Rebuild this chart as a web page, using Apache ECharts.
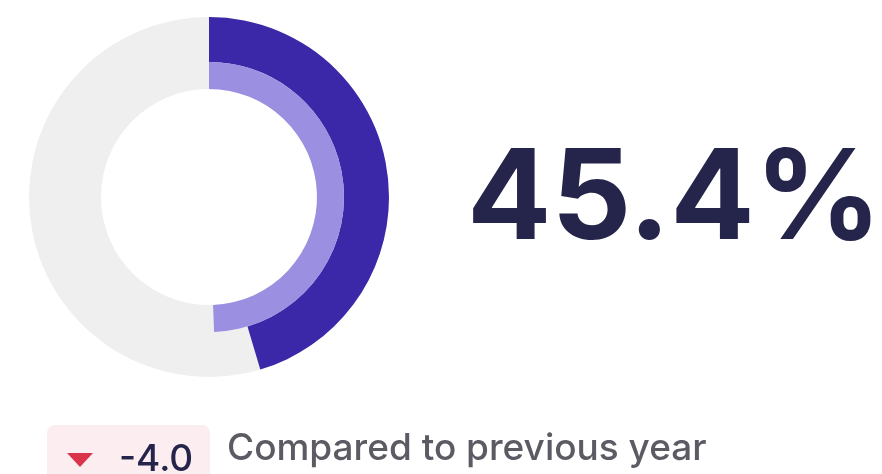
<!DOCTYPE html>
<html>
<head>
<meta charset="utf-8">
<script src="https://cdn.jsdelivr.net/npm/echarts@6/dist/echarts.min.js"></script>
<style>
	html, body { margin: 0; padding: 0; background: #ffffff; }
	#chart { width: 882px; height: 474px; }
</style>
</head>
<body>
<div id="chart"></div>
<script>
// values
var currentShare = [45.4, 54.6];   // this year, rest of the ring
var previousShare = [49.4, 50.6];  // previous year, rest of the ring
var bigLabel = '45.4%';
var changeLabel = '-4.0';
var compareLabel = 'Compared to previous year';

var colors = {
	current: '#3a28a8',
	previous: '#9a8fe0',
	track: '#efefef',
	bigText: '#25244a',
	changeText: '#25244a',
	compareText: '#5b5b63',
	badge: '#fceef0',
	arrow: '#d9344a'
};

var center = [209, 197];

var chart = echarts.init(document.getElementById('chart'));

function ringData(values, mainColor) {
	return [
		{ value: values[0], itemStyle: { color: mainColor } },
		{ value: values[1], itemStyle: { color: 'transparent' } }
	];
}

function ring(radius, data) {
	return {
		type: 'pie',
		center: center,
		radius: radius,
		startAngle: 90,
		clockwise: true,
		silent: true,
		label: { show: false },
		labelLine: { show: false },
		data: data
	};
}

var option = {
	animation: false,
	series: [
		// grey track under both arcs
		ring([108, 180], [{ value: 1, itemStyle: { color: colors.track } }]),
		ring([135, 180], ringData(currentShare, colors.current)),
		ring([108, 135], ringData(previousShare, colors.previous))
	],
	graphic: [
		{
			type: 'text',
			left: 467,
			top: 139,
			style: {
				text: bigLabel,
				fill: colors.bigText,
				font: 'bold 125px Inter'
			}
		},
		{
			type: 'rect',
			shape: { x: 47, y: 425, width: 163, height: 70, r: 8 },
			style: { fill: colors.badge }
		},
		{
			type: 'polygon',
			shape: { points: [[67, 453], [93, 453], [80, 467]] },
			style: { fill: colors.arrow }
		},
		{
			type: 'text',
			left: 119,
			top: 441,
			style: {
				text: changeLabel,
				fill: colors.changeText,
				font: '500 37px Inter'
			}
		},
		{
			type: 'text',
			left: 227,
			top: 430,
			style: {
				text: compareLabel,
				fill: colors.compareText,
				font: '500 37px Inter'
			}
		}
	]
};

chart.setOption(option);
</script>
</body>
</html>
